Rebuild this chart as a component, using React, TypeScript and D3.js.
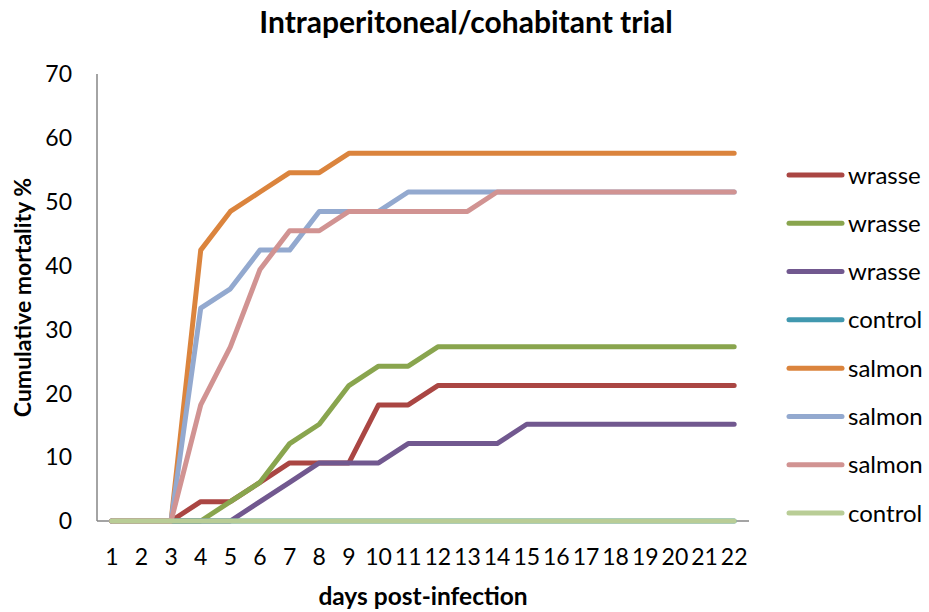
import React from "react";
import * as d3 from "d3";

const days: string[] = Array.from({ length: 22 }, (_, i) => String(i + 1));
const yTicks: number[] = [0, 10, 20, 30, 40, 50, 60, 70];

const wrasse1: number[] = [0, 0, 0, 3.03, 3.03, 6.06, 9.09, 9.09, 9.09, 18.18, 18.18, 21.21, 21.21, 21.21, 21.21, 21.21, 21.21, 21.21, 21.21, 21.21, 21.21, 21.21];
const wrasse2: number[] = [0, 0, 0, 0, 3.03, 6.06, 12.12, 15.15, 21.21, 24.24, 24.24, 27.27, 27.27, 27.27, 27.27, 27.27, 27.27, 27.27, 27.27, 27.27, 27.27, 27.27];
const wrasse3: number[] = [0, 0, 0, 0, 0, 3.03, 6.06, 9.09, 9.09, 9.09, 12.12, 12.12, 12.12, 12.12, 15.15, 15.15, 15.15, 15.15, 15.15, 15.15, 15.15, 15.15];
const control1: number[] = [0, 0, 0, 0, 0, 0, 0, 0, 0, 0, 0, 0, 0, 0, 0, 0, 0, 0, 0, 0, 0, 0];
const salmon1: number[] = [0, 0, 0, 42.42, 48.48, 51.52, 54.55, 54.55, 57.58, 57.58, 57.58, 57.58, 57.58, 57.58, 57.58, 57.58, 57.58, 57.58, 57.58, 57.58, 57.58, 57.58];
const salmon2: number[] = [0, 0, 0, 33.33, 36.36, 42.42, 42.42, 48.48, 48.48, 48.48, 51.52, 51.52, 51.52, 51.52, 51.52, 51.52, 51.52, 51.52, 51.52, 51.52, 51.52, 51.52];
const salmon3: number[] = [0, 0, 0, 18.18, 27.27, 39.39, 45.45, 45.45, 48.48, 48.48, 48.48, 48.48, 48.48, 51.52, 51.52, 51.52, 51.52, 51.52, 51.52, 51.52, 51.52, 51.52];
const control2: number[] = [0, 0, 0, 0, 0, 0, 0, 0, 0, 0, 0, 0, 0, 0, 0, 0, 0, 0, 0, 0, 0, 0];

const seriesNames: string[] = ["wrasse", "wrasse", "wrasse", "control", "salmon", "salmon", "salmon", "control"];
const seriesValues: number[][] = [wrasse1, wrasse2, wrasse3, control1, salmon1, salmon2, salmon3, control2];
const seriesColors: string[] = ["#AA4643", "#89A54E", "#71588F", "#4198AF", "#DB843D", "#93A9CF", "#D19392", "#B9CD96"];

const FONT = "Lato, 'Open Sans', sans-serif";

export default function App() {
  const W = 929;
  const H = 612;
  const left = 97;
  const right = 749;
  const top = 74;
  const bottom = 521;

  const x = d3.scaleBand<string>().domain(days).range([left, right]);
  const y = d3.scaleLinear().domain([0, 70]).range([bottom, top]);
  const line = d3
    .line<number>()
    .x((_, i) => (x(days[i]) as number) + x.bandwidth() / 2)
    .y((v) => y(v));

  const legendY = d3.scaleLinear().domain([0, 7]).range([175, 513]);

  return (
    <svg width={W} height={H} style={{ position: "absolute", left: 0, top: 0 }} fontFamily={FONT}>
      <rect x={0} y={0} width={W} height={H} fill="#fff" />
      <text x={466} y={33} textAnchor="middle" fontSize={30} fontWeight="bold" fill="#000">
        Intraperitoneal/cohabitant trial
      </text>
      {/* axes */}
      <line x1={left} y1={top} x2={left} y2={bottom} stroke="#868686" strokeWidth={1.5} />
      <line x1={left} y1={bottom} x2={right} y2={bottom} stroke="#868686" strokeWidth={1.5} />
      {yTicks.map((t) => (
        <text key={t} x={72} y={y(t)} dy="0.36em" textAnchor="end" fontSize={23} fill="#000">
          {t}
        </text>
      ))}
      {days.map((d) => (
        <text key={d} x={(x(d) as number) + x.bandwidth() / 2} y={565} textAnchor="middle" fontSize={23} fill="#000">
          {d}
        </text>
      ))}
      <text x={(left + right) / 2} y={605} textAnchor="middle" fontSize={24.5} fontWeight="bold" fill="#000">
        days post-infection
      </text>
      <text
        transform={`translate(31, ${(top + bottom) / 2}) rotate(-90)`}
        textAnchor="middle"
        fontSize={23}
        fontWeight="bold"
        fill="#000"
      >
        Cumulative mortality %
      </text>
      {/* series */}
      {seriesValues.map((vals, i) => (
        <path
          key={i}
          d={line(vals) as string}
          fill="none"
          stroke={seriesColors[i]}
          strokeWidth={5}
          strokeLinejoin="round"
          strokeLinecap="round"
        />
      ))}
      {/* legend */}
      {seriesNames.map((n, i) => (
        <g key={i}>
          <line
            x1={789}
            x2={842}
            y1={legendY(i)}
            y2={legendY(i)}
            stroke={seriesColors[i]}
            strokeWidth={5}
            strokeLinecap="round"
          />
          <text x={848} y={legendY(i)} dy="0.36em" fontSize={24} fill="#000">
            {n}
          </text>
        </g>
      ))}
    </svg>
  );
}
